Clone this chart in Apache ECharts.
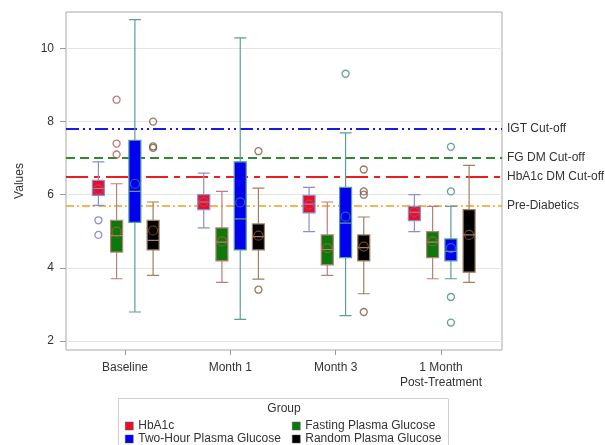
<!DOCTYPE html>
<html><head><meta charset="utf-8">
<script src="https://cdn.jsdelivr.net/npm/echarts@6/dist/echarts.min.js"></script>
<style>html,body{margin:0;padding:0;background:#fff}#c{width:605px;height:445px}</style>
</head><body><div id="c"></div>
<script>
// ---------- DATA ----------
const categories = ['Baseline', 'Month 1', 'Month 3', '1 Month\nPost-Treatment'];
const groups = ['HbA1c', 'Fasting Plasma Glucose', 'Two-Hour Plasma Glucose', 'Random Plasma Glucose'];
// box statistics per category: [min, Q1, median, Q3, max]
const hba1cBox   = [[5.71, 5.98, 6.17, 6.39, 6.90], [5.09, 5.59, 5.80, 6.00, 6.59], [4.99, 5.50, 5.74, 5.98, 6.20], [4.99, 5.29, 5.52, 5.68, 6.00]];
const fastingBox = [[3.70, 4.43, 4.88, 5.30, 6.30], [3.60, 4.19, 4.70, 5.09, 6.09], [3.79, 4.08, 4.50, 4.90, 5.80], [3.70, 4.28, 4.70, 4.99, 5.68]];
const twoHourBox = [[2.79, 5.24, 6.09, 7.49, 10.79], [2.59, 4.49, 5.34, 6.90, 10.29], [2.69, 4.28, 5.22, 6.20, 7.69], [3.70, 4.19, 4.45, 4.79, 5.68]];
const randomBox  = [[3.79, 4.49, 4.75, 5.30, 5.80], [3.69, 4.49, 4.85, 5.20, 6.18], [3.29, 4.19, 4.55, 4.90, 5.39], [3.60, 3.88, 4.90, 5.59, 6.80]];
// means per category
const hba1cMean   = [6.14, 5.80, 5.73, 5.53];
const fastingMean = [4.99, 4.72, 4.54, 4.72];
const twoHourMean = [6.30, 5.79, 5.40, 4.54];
const randomMean  = [5.02, 4.88, 4.58, 4.90];
// outliers: [category index, value]
const hba1cOut   = [[0, 5.30], [0, 4.90]];
const fastingOut = [[0, 8.60], [0, 7.40], [0, 7.10]];
const twoHourOut = [[2, 9.31], [3, 7.31], [3, 6.09], [3, 3.20], [3, 2.50]];
const randomOut  = [[0, 8.00], [0, 7.32], [0, 7.28], [1, 7.19], [1, 3.40], [2, 6.69], [2, 6.09], [2, 6.00], [2, 2.79]];
// reference lines
const refNames  = ['IGT Cut-off', 'FG DM Cut-off', 'HbA1c DM Cut-off', 'Pre-Diabetics'];
const refValues = [7.8, 7.0, 6.5, 5.7];
const yTicks = [2, 4, 6, 8, 10];

// ---------- STYLE / LAYOUT ----------
const FONT = 'Liberation Sans, Arial, sans-serif';
const GRID = { left: 66, right: 103, top: 12, bottom: 95 };
const PLOT_W = 605 - GRID.left - GRID.right;
const X_MIN = -0.56, X_MAX = 3.579;
const PX_PER = PLOT_W / (X_MAX - X_MIN);
const TARGET_PX = [-26.6, -8.4, 9.9, 28.1];      // box centre offsets within a category (px)

const fills   = ['#e5102c', '#0b7a0b', '#0000f0', '#000000'];
const borders = ['#8a90c6', '#b98078', '#5a9f96', '#a08060'];
const meanCol = ['#c8406a', '#a4603c', '#3a6fb6', '#8a5a30'];
const outCol  = ['#6d78c0', '#b05a5a', '#3f8c82', '#7a5a40'];
const refStyle = [
  { color: '#1a1ae6', type: [13, 4, 2, 4, 2, 4], width: 2.2 },
  { color: '#2e8b2e', type: [9, 5], width: 2.2 },
  { color: '#ee1c1c', type: [22, 6, 6, 6], width: 2.2 },
  { color: '#f0a020', type: [8, 3, 2, 3], width: 1.6 }
];

const boxes = [hba1cBox, fastingBox, twoHourBox, randomBox];
const means = [hba1cMean, fastingMean, twoHourMean, randomMean];
const outs  = [hba1cOut, fastingOut, twoHourOut, randomOut];

const series = [];
series.push({
  type: 'line', name: '_ref', data: [], silent: true, z: 1,
  markLine: {
    z: 1, silent: true, animation: false, symbol: 'none',
    label: { position: 'end', distance: 5, color: '#333', fontSize: 12, fontFamily: FONT },
    emphasis: { disabled: true },
    data: refValues.map((v, i) => ({
      yAxis: v, name: refNames[i], lineStyle: refStyle[i],
      label: { formatter: refNames[i] }
    }))
  }
});
groups.forEach((g, s) => {
  const off = TARGET_PX[s] / PX_PER;
  series.push({
    type: 'boxplot', name: g, z: 2, boxWidth: [12, 12], silent: true, xAxisIndex: s + 1,
    itemStyle: { color: fills[s], borderColor: borders[s], borderWidth: 1.2 },
    emphasis: { disabled: true },
    data: boxes[s].map((b, i) => [i + off].concat(b))
  });
});
groups.forEach((g, s) => {
  const off = TARGET_PX[s] / PX_PER;
  series.push({
    type: 'scatter', name: '_mean' + s, z: 4, silent: true, symbol: 'circle', symbolSize: 9,
    itemStyle: { color: 'rgba(0,0,0,0)', borderColor: meanCol[s], borderWidth: 1.2 },
    data: means[s].map((m, i) => [i + off, m])
  });
  series.push({
    type: 'scatter', name: '_out' + s, z: 4, silent: true, symbol: 'circle', symbolSize: 7,
    itemStyle: { color: 'rgba(0,0,0,0)', borderColor: outCol[s], borderWidth: 1.3 },
    data: outs[s].map(o => [o[0] + off, o[1]])
  });
});

const legendItem = s => ({ name: groups[s], itemStyle: { color: fills[s], borderColor: '#555', borderWidth: 0.5 } });
const legendBase = {
  orient: 'vertical', top: 420, itemWidth: 8, itemHeight: 8, itemGap: 1, icon: 'rect',
  selectedMode: false, textStyle: { fontSize: 12, color: '#333', fontFamily: FONT }, padding: 0
};

const mainX = {
  type: 'value', min: X_MIN, max: X_MAX,
  splitLine: { show: false }, axisLine: { show: false, onZero: false },
  axisTick: { show: true, customValues: [0, 1, 2, 3], length: 5, lineStyle: { color: '#999' } },
  axisLabel: { customValues: [0, 1, 2, 3], formatter: v => categories[Math.round(v)], fontSize: 12, color: '#333', margin: 10, lineHeight: 15, fontFamily: FONT }
};
const hiddenX = groups.map(() => ({ type: 'value', min: X_MIN, max: X_MAX, show: false }));

const option = {
  animation: false,
  textStyle: { fontFamily: FONT },
  grid: { left: GRID.left, right: GRID.right, top: GRID.top, bottom: GRID.bottom, show: true, borderColor: '#a9a9a9', borderWidth: 1 },
  xAxis: [mainX].concat(hiddenX),
  yAxis: {
    type: 'value', min: 1.75, max: 11,
    name: 'Values', nameLocation: 'middle', nameGap: 40,
    nameTextStyle: { fontSize: 12, color: '#333', fontFamily: FONT },
    axisLine: { show: false, onZero: false },
    axisTick: { show: true, customValues: yTicks, length: 6, lineStyle: { color: '#999' } },
    axisLabel: { customValues: yTicks, fontSize: 12, color: '#333', margin: 12, fontFamily: FONT },
    splitLine: { show: true, lineStyle: { color: '#e4e4e4' } }
  },
  legend: [
    Object.assign({}, legendBase, { left: 125, data: [legendItem(0), legendItem(2)] }),
    Object.assign({}, legendBase, { left: 292, data: [legendItem(1), legendItem(3)] })
  ],
  graphic: [
    { type: 'rect', silent: true, shape: { x: 118.5, y: 398.5, width: 330, height: 60 }, style: { fill: 'none', stroke: '#cfcfcf', lineWidth: 1 } },
    { type: 'text', silent: true, x: 284, y: 409, style: { text: 'Group', fontSize: 12, fill: '#333', align: 'center', verticalAlign: 'middle', fontFamily: FONT } }
  ],
  series: series
};
const chart = echarts.init(document.getElementById('c'), null, { renderer: 'canvas' });
chart.setOption(option);
</script></body></html>
